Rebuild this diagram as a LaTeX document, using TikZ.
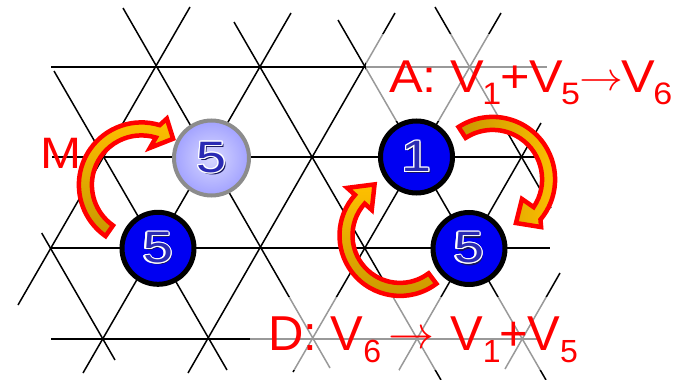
\documentclass[tikz,border=0pt]{standalone}
\usepackage{fontspec}
\setmainfont{Liberation Sans}
\usepackage{graphicx}
\usepackage{contour}
\contourlength{1.1pt}
\contournumber{12}
\definecolor{nodeblue}{HTML}{0000F2}
\definecolor{lightin}{HTML}{D8D8FF}
\definecolor{lightout}{HTML}{A2A2FF}
\definecolor{ringgray}{HTML}{8C8C8C}
\definecolor{digitblue}{HTML}{2A2AB4}
\definecolor{shadowc}{HTML}{15155C}
\definecolor{goldA}{HTML}{FFC000}
\definecolor{goldB}{HTML}{C89600}
\definecolor{labelred}{HTML}{FF0000}
\newcommand\digittext[1]{\scalebox{1.22}[1]{\fontsize{44}{44}\selectfont\contour{white}{\textcolor{digitblue}{#1}}}}
\newcommand\digitshade[1]{\scalebox{1.22}[1]{\fontsize{44}{44}\selectfont\textcolor{shadowc}{#1}}}
\newcommand\subA[1]{\raisebox{-12pt}{\fontsize{31}{31}\selectfont #1}}
\newcommand\subD[1]{\raisebox{-12pt}{\fontsize{32}{32}\selectfont #1}}
\newcommand\arrA{\raisebox{2.5pt}{\resizebox{40pt}{!}{\fontsize{10}{10}\selectfont$\rightarrow$}}}
\newcommand\arrD{\raisebox{2pt}{\resizebox{46pt}{!}{\fontsize{10}{10}\selectfont$\rightarrow$}}}
\begin{document}
\begin{tikzpicture}[x=1pt,y=1pt,yscale=-1,
  lat/.style={line width=1.5pt},
  site/.style={circle, minimum size=72pt, inner sep=0pt, line width=5pt, draw=black, fill=nodeblue},
  ghost/.style={circle, minimum size=75pt, inner sep=0pt, line width=4pt, draw=ringgray, inner color=lightin, outer color=lightout},
  carrow/.style={draw=labelred, line width=4.5pt, line join=miter},
  lbl/.style={inner sep=0pt, text=labelred, anchor=base west},
  dig/.style={inner sep=0pt}
]
\useasboundingbox (0,0) rectangle (683,380);
% horizontal lattice lines
\draw[lat] (51,67) -- (547,67);
\draw[lat] (52,157) -- (542,157);
\draw[lat] (51,248) -- (550,248);
\draw[lat] (51,339) -- (537,339);
% down-right lattice lines
\draw[lat] (41.7,233) -- (115,360);
\draw[lat] (54,71) -- (227,370);
\draw[lat] (123,8) -- (330,368);
\draw[lat] (234,22) -- (441,380);
\draw[lat] (338,20) -- (546,380);
\draw[lat] (435,7) -- (551,208);
% up-right lattice lines
\draw[lat] (190,7) -- (18,305);
\draw[lat] (291,13) -- (83,373);
\draw[lat] (395,13) -- (188,373);
\draw[lat] (501,13) -- (293,372);
\draw[lat] (541,123) -- (399,370);
\draw[lat] (560,273) -- (505,369);
% faded areas behind the labels
\fill[white, opacity=0.6] (366,34) rectangle (562,121);
\fill[white, opacity=0.6] (250,297) rectangle (564,370);
% sites
\node[ghost] (g5) at (211.5,158) {};
\node[site] (s1) at (416.5,157) {};
\node[site] (s5a) at (158,248.3) {};
\node[site] (s5b) at (469,248.5) {};
\node[dig] (g5sh) at ([shift={(1.6,1.6)}]g5.center) {\digitshade{5}};
\node[dig] (g5t) at (g5.center) {\digittext{5}};
\node[dig] (s1sh) at ([shift={(1.6,1.6)}]s1.center) {\digitshade{1}};
\node[dig] (s1t) at (s1.center) {\digittext{1}};
\node[dig] (s5ash) at ([shift={(1.6,1.6)}]s5a.center) {\digitshade{5}};
\node[dig] (s5at) at (s5a.center) {\digittext{5}};
\node[dig] (s5bsh) at ([shift={(1.6,1.6)}]s5b.center) {\digitshade{5}};
\node[dig] (s5bt) at (s5b.center) {\digittext{5}};
% curved block arrows
\begin{scope}[shift={(141.4,184.9)}]
\draw[carrow, top color=goldA, bottom color=goldB]
  (125:62.5) arc[start angle=125, end angle=287, radius=62.5]
  -- (291:71) -- (304.5:56) -- (283:38) -- (287:49.5)
  arc[start angle=287, end angle=125, radius=49.5] -- cycle;
\end{scope}
\begin{scope}[shift={(492.6,179.4)}]
\draw[carrow, left color=goldB, right color=goldA]
  (237:62.5) arc[start angle=237, end angle=400, radius=62.5]
  -- (404.5:68) -- (421.8:49.5) -- (393.7:35.3) -- (394:49.5)
  arc[start angle=394, end angle=237, radius=49.5] -- cycle;
\end{scope}
\begin{scope}[shift={(400,235.4)}]
\draw[carrow, top color=goldA, bottom color=goldB]
  (53:60.5) arc[start angle=53, end angle=222, radius=60.5]
  -- (222:71) -- (243.5:57) -- (222:38) -- (222:47.5)
  arc[start angle=222, end angle=53, radius=47.5] -- cycle;
\end{scope}
% labels
\node[lbl] (mlab) at (40,168) {\scalebox{1.12}[1]{\fontsize{44}{44}\selectfont M}};
\node[lbl] (alab) at (389,92.7) {\resizebox{283pt}{\height}{\fontsize{46}{46}\selectfont A: V\kern-2pt\subA{1}\kern-1pt+V\kern-2pt\subA{5}\kern-1pt\arrA\kern-1pt V\kern-2pt\subA{6}}};
\node[lbl] (dlab) at (268,350) {\fontsize{49}{49}\selectfont D: V\subD{6}\kern7pt\arrD\kern16pt V\subD{1}\kern-1pt+\kern-1pt V\subD{5}};
\end{tikzpicture}
\end{document}
